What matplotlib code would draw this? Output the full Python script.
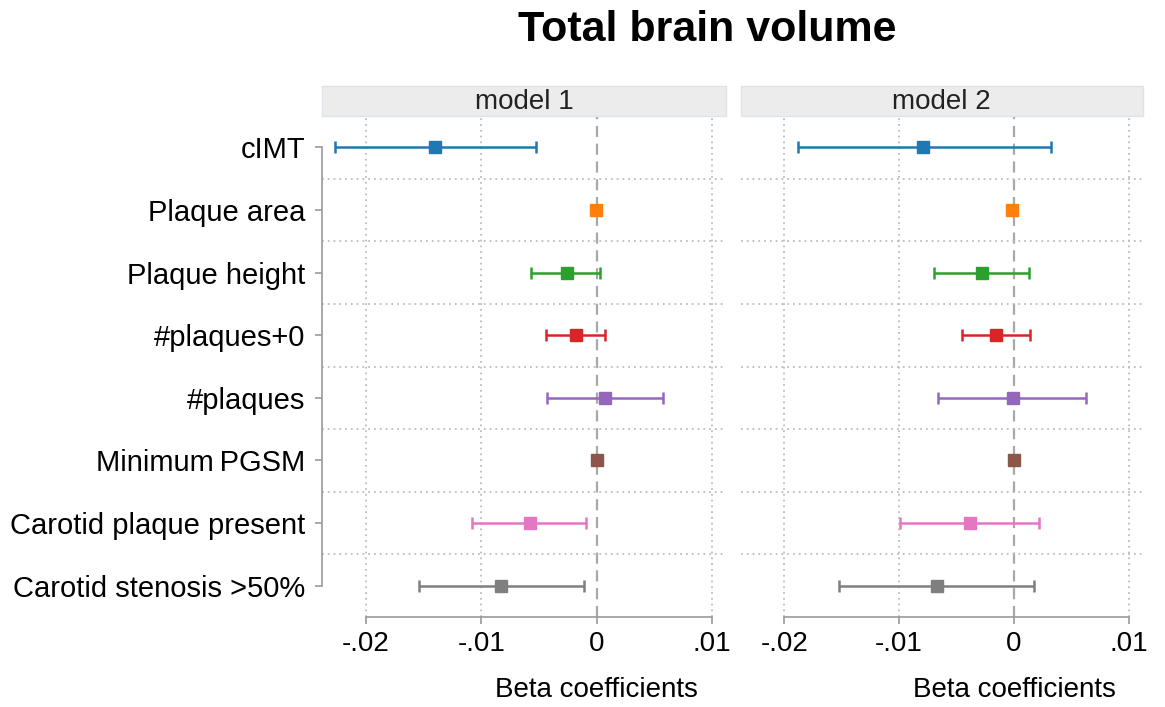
import numpy as np
import matplotlib
matplotlib.use('Agg')
import matplotlib.pyplot as plt
from matplotlib.patches import Rectangle
import matplotlib.transforms as mtransforms

plt.rcParams['font.family'] = ['Liberation Sans', 'DejaVu Sans']

labels = ['cIMT', 'Plaque area', 'Plaque height', '#plaques+0', '#plaques',
          'Minimum\u2009PGSM', 'Carotid plaque present', 'Carotid stenosis >50%']
colors = ['#1f77b4', '#ff7f0e', '#2ca02c', '#d62728',
          '#9467bd', '#8c564b', '#e377c2', '#7f7f7f']
models = ['model 1', 'model 2']

# beta estimates and 95% CI per model
beta_m1 = [-0.0140, -0.0001, -0.0026, -0.0018, 0.0007, 0.0000, -0.0058, -0.0083]
lo_m1 = [-0.0227, -0.0002, -0.0057, -0.0044, -0.0043, -0.0001, -0.0108, -0.0154]
hi_m1 = [-0.0053, 0.0000, 0.0003, 0.0007, 0.0057, 0.0001, -0.0009, -0.0011]

beta_m2 = [-0.0079, -0.0002, -0.0028, -0.0016, -0.0001, 0.0000, -0.0038, -0.0067]
lo_m2 = [-0.0188, -0.0003, -0.0070, -0.0045, -0.0066, -0.0001, -0.0099, -0.0152]
hi_m2 = [0.0032, -0.0001, 0.0013, 0.0014, 0.0063, 0.0001, 0.0022, 0.0017]

xticks = [-0.02, -0.01, 0, 0.01]
xticklabels = ['-.02', '-.01', '0', '.01']

fig = plt.figure(figsize=(11.65, 7.07), dpi=100)
ax1 = fig.add_axes([0.2764, 0.1273, 0.3468, 0.7086])
ax2 = fig.add_axes([0.6358, 0.1273, 0.3450, 0.7086])

ypos = np.arange(1, len(labels) + 1)

for ax, name, beta, lo, hi in [(ax1, models[0], beta_m1, lo_m1, hi_m1),
                               (ax2, models[1], beta_m2, lo_m2, hi_m2)]:
    ax.set_xlim(-0.0238, 0.0112)
    ax.set_ylim(8.5, 0.5)

    # grid
    for x in [-0.02, -0.01, 0.01]:
        ax.axvline(x, color='#bdbdbd', lw=1.3, ls=(0, (1, 2.2)), zorder=0)
    ax.axvline(0, color='#a8a8a8', lw=1.6, ls=(0, (5, 3)), zorder=0)
    for y in ypos[:-1] + 0.5:
        ax.axhline(y, color='#bdbdbd', lw=1.3, ls=(0, (1, 2.2)), zorder=0)

    for i in range(len(labels)):
        b = beta[i]
        ax.errorbar(b, ypos[i], xerr=[[b - lo[i]], [hi[i] - b]], fmt='s',
                    color=colors[i], ms=8, lw=1.8, capsize=4, capthick=1.8,
                    zorder=3)

    ax.set_xticks(xticks)
    ax.set_xticklabels(xticklabels, fontsize=20)
    ax.tick_params(axis='x', length=5, width=1.2, color='#999999', pad=5)
    for s in ['top', 'right']:
        ax.spines[s].set_visible(False)
    ax.spines['bottom'].set_bounds(-0.02, 0.01)
    ax.spines['bottom'].set_color('#999999')
    ax.spines['bottom'].set_linewidth(1.2)

    # facet strip
    ax.add_patch(Rectangle((0, 1.0), 1, 30 / 501, transform=ax.transAxes,
                           facecolor='#ececec', edgecolor='#dde3e8', lw=1,
                           clip_on=False))
    ax.text(0.5, 1.0 + 14 / 501, name, transform=ax.transAxes, ha='center',
            va='center', fontsize=20, color='#222222')

    trans = mtransforms.blended_transform_factory(ax.transData, fig.transFigure)
    ax.text(0, 1 - 690 / 707, 'Beta coefficients', transform=trans,
            ha='center', va='center', fontsize=20)

ax1.set_yticks(ypos)
ax1.set_yticklabels(labels, fontsize=21)
ax1.tick_params(axis='y', length=5, width=1.2, color='#999999', pad=7)
ax1.spines['left'].set_bounds(1, 8)
ax1.spines['left'].set_color('#999999')
ax1.spines['left'].set_linewidth(1.2)

ax2.set_yticks([])
ax2.spines['left'].set_visible(False)

fig.text(707 / 1165, 1 - 30 / 707, 'Total brain volume', ha='center',
         va='center', fontsize=31, fontweight='bold')

fig.savefig('out.png', dpi=100)
